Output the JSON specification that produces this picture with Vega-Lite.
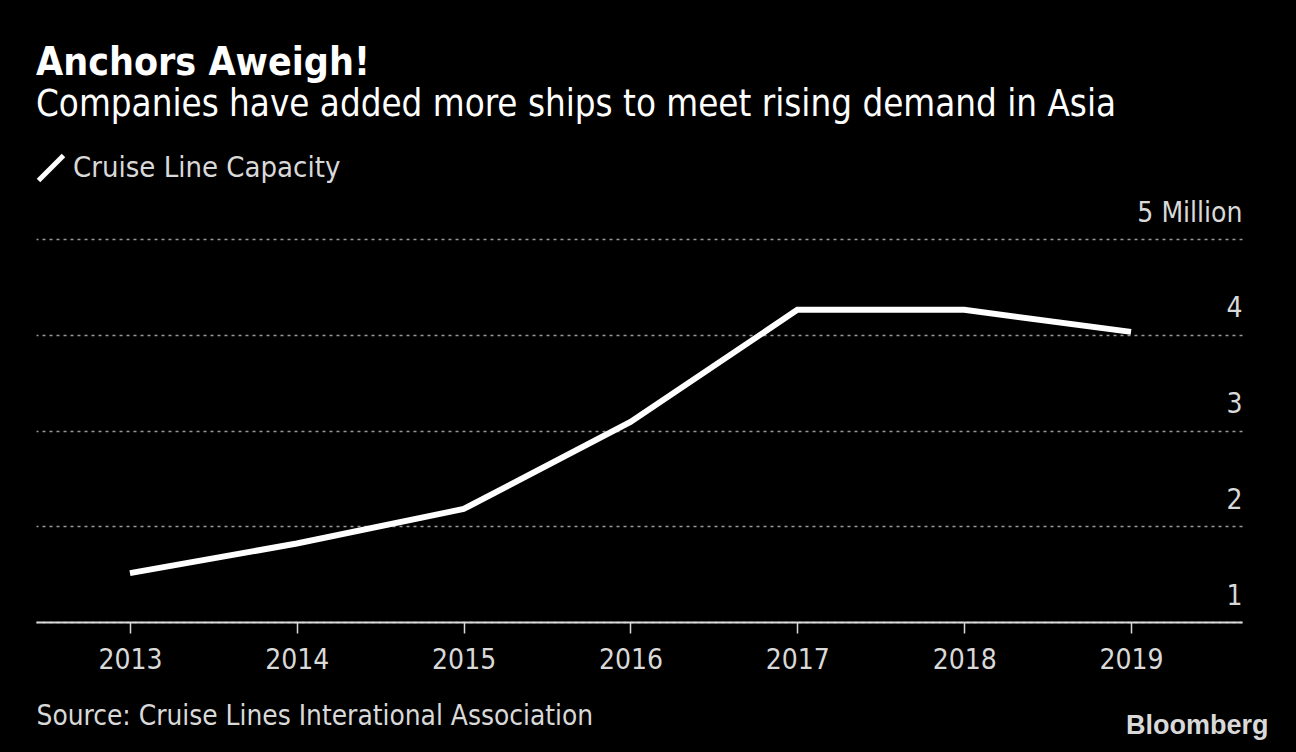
{
  "$schema": "https://vega.github.io/schema/vega-lite/v6.json",
  "autosize": "none",
  "width": 1206,
  "height": 383,
  "padding": {"left": 36, "top": 239, "right": 54, "bottom": 130},
  "background": "#000000",
  "config": {
    "view": {"stroke": null},
    "font": "DejaVu Sans Condensed"
  },
  "title": {
    "text": "Anchors Aweigh!",
    "subtitle": "Companies have added more ships to meet rising demand in Asia",
    "anchor": "start",
    "frame": "group",
    "font": "DejaVu Sans Condensed",
    "fontSize": 39,
    "fontWeight": "bold",
    "color": "#ffffff",
    "subtitleFont": "DejaVu Sans Condensed",
    "subtitleFontSize": 36.4,
    "subtitleColor": "#ffffff",
    "subtitlePadding": 4,
    "offset": 30
  },
  "data": {
    "values": [
      {"year": 2013, "capacity": 1.51, "series": "Cruise Line Capacity"},
      {"year": 2014, "capacity": 1.82, "series": "Cruise Line Capacity"},
      {"year": 2015, "capacity": 2.18, "series": "Cruise Line Capacity"},
      {"year": 2016, "capacity": 3.09, "series": "Cruise Line Capacity"},
      {"year": 2017, "capacity": 4.26, "series": "Cruise Line Capacity"},
      {"year": 2018, "capacity": 4.26, "series": "Cruise Line Capacity"},
      {"year": 2019, "capacity": 4.03, "series": "Cruise Line Capacity"}
    ]
  },
  "mark": {"type": "line", "strokeWidth": 6, "strokeCap": "butt", "strokeJoin": "miter"},
  "encoding": {
    "x": {
      "field": "year",
      "type": "quantitative",
      "scale": {"domain": [2012.437, 2019.665], "nice": false, "zero": false},
      "axis": {
        "values": [2013, 2014, 2015, 2016, 2017, 2018, 2019],
        "format": "d",
        "grid": false,
        "domainColor": "#d9d9d9",
        "domainWidth": 2,
        "tickColor": "#d9d9d9",
        "tickWidth": 1.5,
        "tickSize": 11,
        "labelColor": "#d9d9d9",
        "labelFont": "DejaVu Sans Condensed",
        "labelFontSize": 28,
        "labelPadding": 13,
        "title": "Source: Cruise Lines Interational Association",
        "titleFont": "DejaVu Sans Condensed",
        "titleFontSize": 27.8,
        "titleFontWeight": "normal",
        "titleColor": "#d9d9d9",
        "titleAnchor": "start",
        "titleAlign": "left",
        "titleBaseline": "alphabetic",
        "titleX": 0,
        "titleY": 102
      }
    },
    "y": {
      "field": "capacity",
      "type": "quantitative",
      "scale": {"domain": [1, 5], "nice": false, "zero": false},
      "axis": {
        "orient": "right",
        "values": [1, 2, 3, 4, 5],
        "labelExpr": "datum.value == 5 ? '5 Million' : datum.label",
        "domain": false,
        "ticks": false,
        "grid": true,
        "gridColor": "#999999",
        "gridDash": [3, 4],
        "gridWidth": 1.5,
        "labelAlign": "right",
        "labelBaseline": "alphabetic",
        "labelOffset": -18,
        "labelPadding": 0,
        "labelColor": "#d9d9d9",
        "labelFont": "DejaVu Sans Condensed",
        "labelFontSize": 28,
        "title": "Bloomberg",
        "titleFont": "Liberation Sans",
        "titleFontSize": 27,
        "titleFontWeight": "bold",
        "titleColor": "#d9d9d9",
        "titleAngle": 0,
        "titleAlign": "right",
        "titleBaseline": "alphabetic",
        "titleX": 26,
        "titleY": 494
      }
    },
    "color": {
      "field": "series",
      "type": "nominal",
      "scale": {"range": ["#ffffff"]},
      "legend": {
        "title": null,
        "orient": "none",
        "legendX": 0,
        "legendY": -86,
        "padding": 0,
        "symbolType": "M-1,1L1,-1",
        "symbolSize": 625,
        "symbolStrokeWidth": 5,
        "symbolStrokeColor": "#ffffff",
        "labelColor": "#d9d9d9",
        "labelFont": "DejaVu Sans Condensed",
        "labelFontSize": 29,
        "labelOffset": 7,
        "labelLimit": 0
      }
    }
  }
}
